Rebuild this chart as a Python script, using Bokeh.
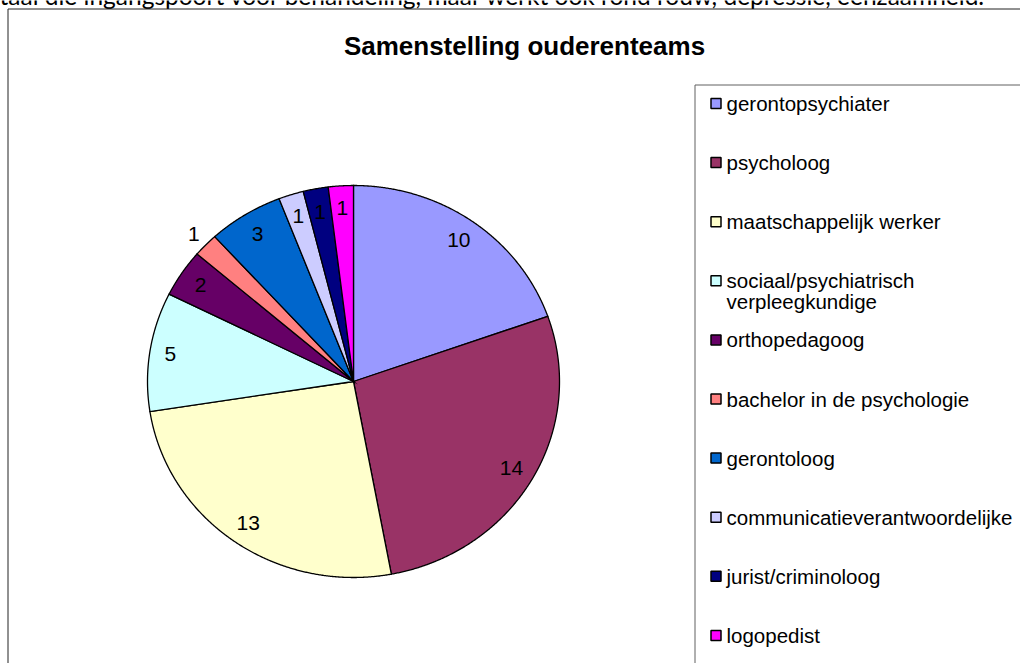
import numpy as np
from bokeh.plotting import figure
from bokeh.models import Range1d
from bokeh.core.properties import value
from bokeh.embed import file_html
from bokeh.resources import INLINE

# ---- data ----
title = "Samenstelling ouderenteams"
header_text = "taal die ingangspoort voor behandeling, maar werkt ook rond rouw, depressie, eenzaamheid."
categories = [
    "gerontopsychiater",
    "psycholoog",
    "maatschappelijk werker",
    "sociaal/psychiatrisch\nverpleegkundige",
    "orthopedagoog",
    "bachelor in de psychologie",
    "gerontoloog",
    "communicatieverantwoordelijke",
    "jurist/criminoloog",
    "logopedist",
]
counts = [10, 14, 13, 5, 2, 1, 3, 1, 1, 1]
colors = ["#9999FF", "#993366", "#FFFFCC", "#CCFFFF", "#660066",
          "#FF8080", "#0066CC", "#CCCCFF", "#000080", "#FF00FF"]

# ---- layout (picture pixels) ----
W, H = 1020, 663
cx, cy, rx, ry = 353, 381, 206, 196
label_r = [0.885, 0.885, 0.885, 0.9, 0.89, 1.08, 0.885, 0.885, 0.88, 0.885]
FONT = value("Liberation Sans")

p = figure(width=W, height=H, x_range=Range1d(0, W), y_range=Range1d(H, 0),
           output_backend="svg", toolbar_location=None, min_border=0,
           x_axis_location=None, y_axis_location=None,
           outline_line_color=None, background_fill_color="white",
           border_fill_color="white")
p.grid.visible = False

# header text of the surrounding document (cut off at the top, as in the source)
p.text(x=[-1], y=[-5], text=[header_text], text_font=value("Lato"),
       text_font_size="24.5px", text_baseline="alphabetic", text_align="left",
       text_color="black")

# outer chart border
p.quad(left=[7.5], right=[1100], top=[8.5], bottom=[720], fill_color=None,
       line_color="#222222", line_width=1)

# title
p.text(x=[524], y=[45], text=[title], text_font=FONT, text_font_style="bold",
       text_font_size="26px", text_align="center", text_baseline="middle",
       text_color="black")

# pie slices (ellipse, clockwise from 12 o'clock)
vals = np.array(counts, dtype=float)
cum = np.cumsum(vals) / vals.sum() * 2 * np.pi
starts = np.concatenate([[0.0], cum[:-1]])
ends = cum
xs, ys = [], []
for s, e in zip(starts, ends):
    th = np.linspace(s, e, max(10, int((e - s) / 0.005)))
    xs.append(np.concatenate([[cx], cx + rx * np.sin(th)]))
    ys.append(np.concatenate([[cy], cy - ry * np.cos(th)]))
p.patches(xs, ys, fill_color=colors, line_color="black", line_width=1.3,
          line_join="miter")

# slice labels
mids = (starts + ends) / 2
lr = np.array(label_r)
lx = cx + rx * lr * np.sin(mids)
ly = cy - ry * lr * np.cos(mids)
p.text(x=lx, y=ly, text=[str(c) for c in counts], text_font=FONT,
       text_font_size="21px", text_align="center", text_baseline="middle",
       text_color="black")

# legend box
p.quad(left=[694.5], right=[1026.5], top=[84.5], bottom=[720], fill_color=None,
       line_color="#606060", line_width=1)

leg_y0, leg_dy, line_dy = 103, 59.1, 21
item_y = [leg_y0 + i * leg_dy for i in range(len(categories))]
p.rect(x=[715.5] * len(categories), y=item_y, width=10, height=10,
       width_units="screen", height_units="screen", fill_color=colors,
       line_color="black", line_width=1.5)
tx, ty, tt = [], [], []
for yy, cat in zip(item_y, categories):
    for k, line in enumerate(cat.split("\n")):
        tx.append(726)
        ty.append(yy + k * line_dy)
        tt.append(line)
p.text(x=tx, y=ty, text=tt, text_font=FONT, text_font_size="20.5px",
       text_align="left", text_baseline="middle", text_color="black")

open("out.html", "w").write(file_html(p, INLINE))
